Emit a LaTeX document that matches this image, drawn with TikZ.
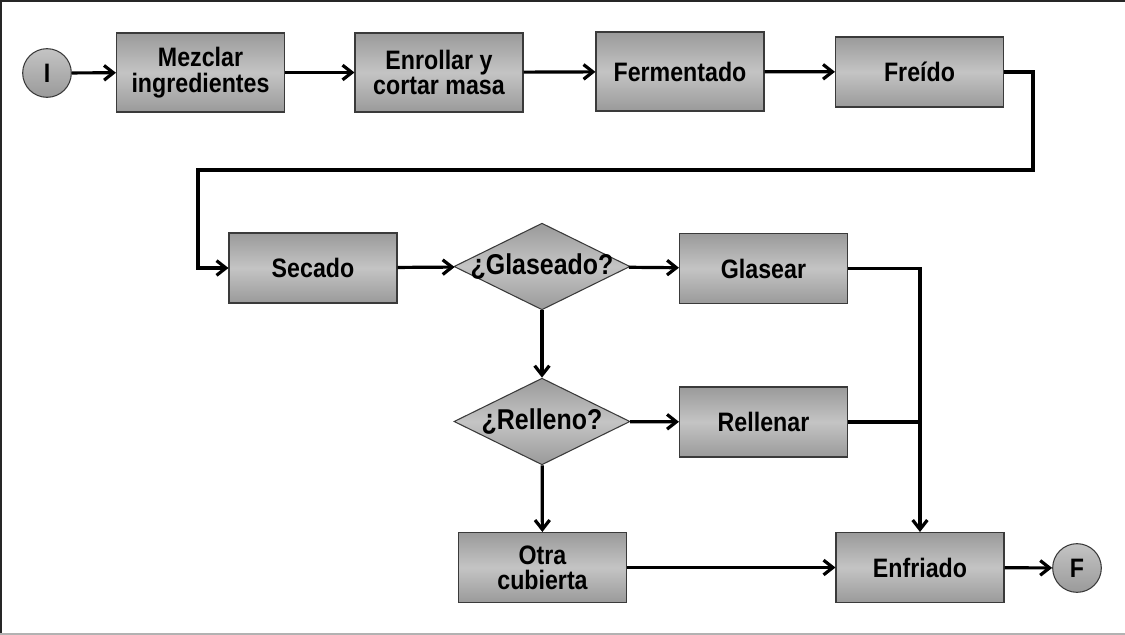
\documentclass[tikz,border=0pt]{standalone}
\usepackage{fontspec}
\setmainfont{Liberation Sans}[FakeStretch=0.87]
\usetikzlibrary{arrows.meta,shapes.geometric}

\definecolor{boxdark}{HTML}{9A9A9A}
\definecolor{boxlight}{HTML}{C4C4C4}
\definecolor{edgegray}{HTML}{3A3A3A}

\begin{document}
\begin{tikzpicture}[x=0.75pt,y=-0.75pt,
  lbl/.style={font=\fontsize{20}{19}\selectfont\bfseries, align=center, text=black},
  box/.style={lbl, rectangle, draw=edgegray, line width=0.8pt,
    top color=boxdark, bottom color=boxdark, middle color=boxlight,
    minimum width=126pt, minimum height=52.5pt, inner sep=0pt},
  tallbox/.style={box, minimum height=59.25pt},
  decision/.style={lbl, font=\fontsize{21.5}{21}\selectfont\bfseries,
    diamond, draw=edgegray, line width=0.8pt,
    top color=boxdark, bottom color=boxdark, middle color=boxlight,
    minimum width=132pt, minimum height=65pt, inner sep=0pt},
  terminal/.style={lbl, circle, draw=edgegray, line width=0.8pt,
    top color=boxlight, bottom color=boxdark,
    minimum size=36.5pt, inner sep=0pt},
  flow/.style={line width=2.4pt, draw=black, -{Straight Barb[length=7pt,width=11pt]}},
  link/.style={line width=2.4pt, draw=black}
]
\useasboundingbox (0,0) rectangle (1125,635);

% frame of the sheet
\draw[black!85, line width=1.6pt] (0,1) -- (1125,1);
\draw[black!85, line width=1.6pt] (1,0) -- (1,635);
\draw[black!30, line width=1.5pt] (0,634) -- (1125,634);

% top row
\node[terminal] (ini) at (47,73) {I};
\node[tallbox] (mez) at (200.5,72.5) {Mezclar\\ingredientes};
\node[tallbox] (enr) at (439,72.5) {Enrollar y\\cortar masa};
\node[tallbox] (fer) at (680,71.5) {Fermentado};
\node[box] (fre) at (919.5,72) {Freído};

% middle rows
\node[box] (sec) at (313,268) {Secado};
\node[decision] (qgl) at (542,266.5) {\makebox[0pt]{¿Glaseado?}};
\node[box] (gla) at (763.5,268.5) {Glasear};
\node[decision] (qre) at (542,421.5) {\makebox[0pt]{¿Relleno?}};
\node[box] (rel) at (763.5,422) {Rellenar};

% bottom row
\node[box] (otr) at (542.5,567.5) {Otra\\cubierta};
\node[box] (enf) at (920,567.5) {Enfriado};
\node[terminal] (fin) at (1077,568) {F};

% return path from the top row to the second row
\coordinate (c1) at (1033,170);
\coordinate (c2) at (198,170);

\draw[flow] (ini) -- (mez);
\draw[flow] (mez) -- (enr);
\draw[flow] (enr) -- (fer);
\draw[flow] (fer) -- (fre);
\draw[flow] (fre.east) -| (c1) -- (c2) |- (sec.west);
\draw[flow] (sec) -- (qgl);
\draw[flow] (qgl) -- (gla);
\draw[flow] (qgl) -- (qre);
\draw[flow] (qre) -- (rel);
\draw[flow] (qre) -- (otr);
\draw[flow] (gla.east) -| (enf.north);
\draw[link] (rel.east) -- (rel.east -| enf.north);
\draw[flow] (otr) -- (enf);
\draw[flow] (enf) -- (fin);
\end{tikzpicture}
\end{document}
